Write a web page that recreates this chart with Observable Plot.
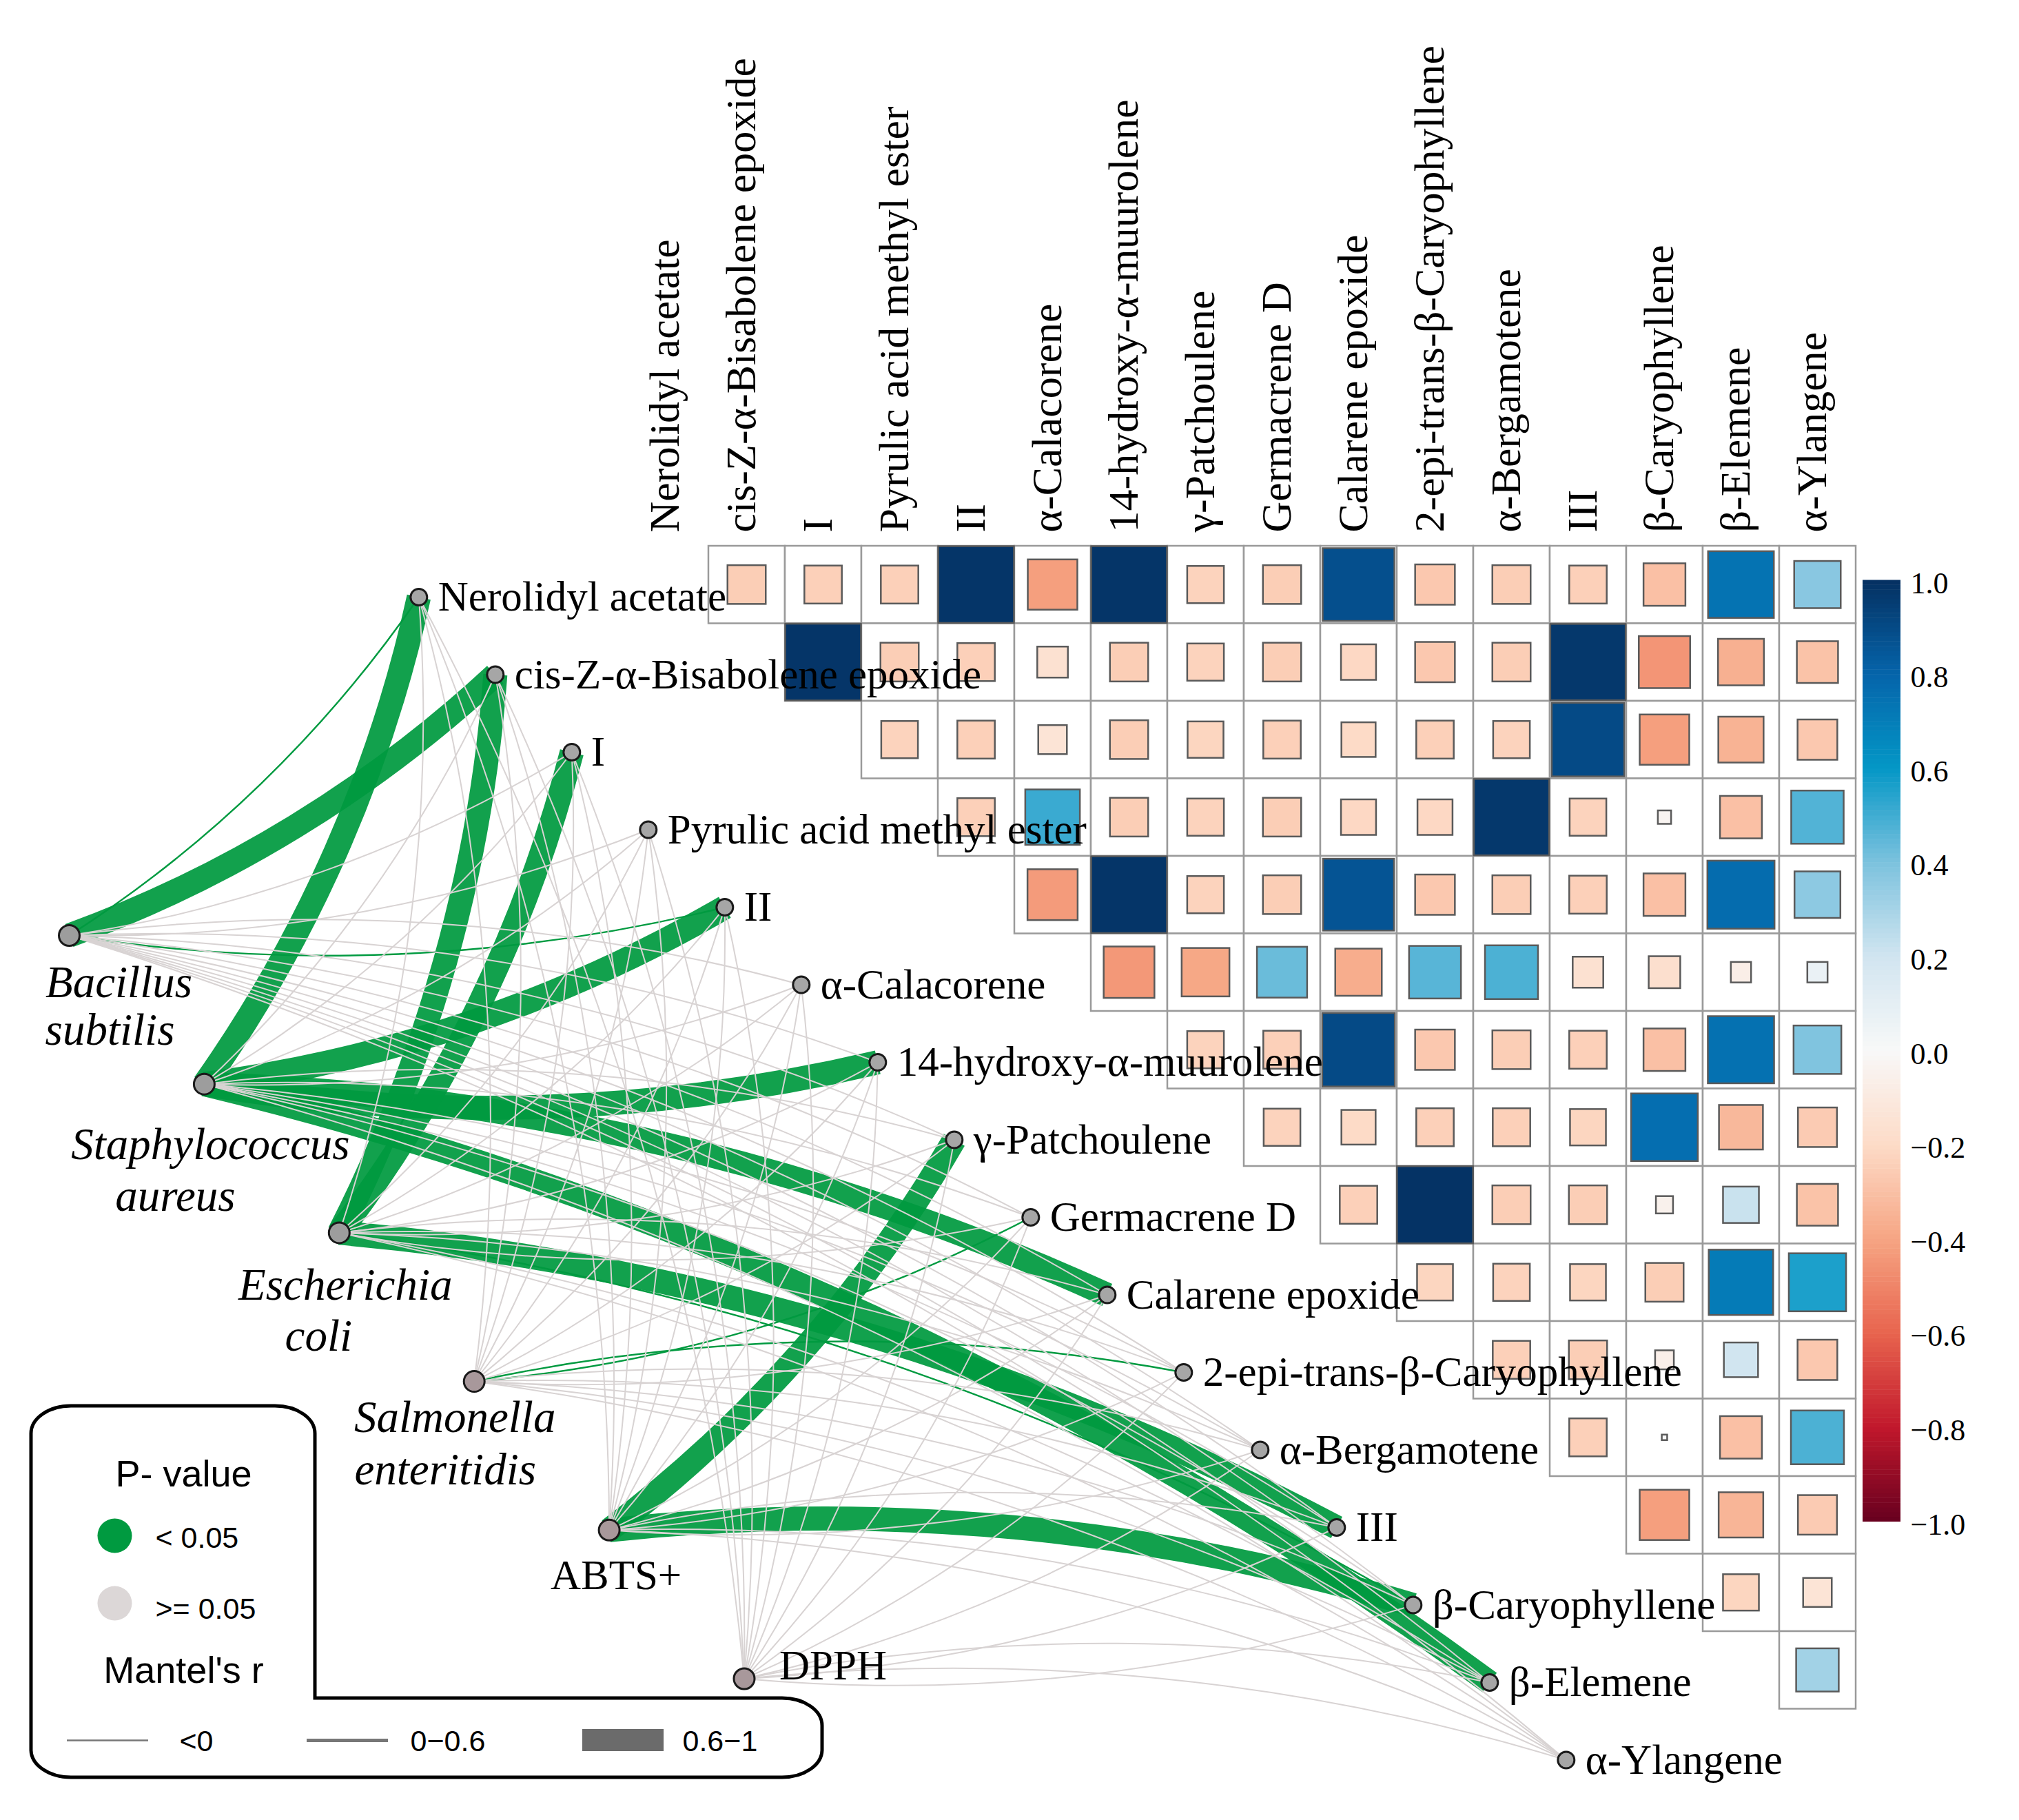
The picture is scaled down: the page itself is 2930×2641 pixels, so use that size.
<!DOCTYPE html>
<html><head><meta charset="utf-8">
<script src="https://cdn.jsdelivr.net/npm/d3@7"></script>
<script src="https://cdn.jsdelivr.net/npm/@observablehq/plot@0.6"></script>
<style>body{margin:0;background:#fff}</style>
</head><body><div id="chart"></div>
<script>
// ---------------- data ----------------
const species = ["Nerolidyl acetate","cis-Z-α-Bisabolene epoxide","I","Pyrulic acid methyl ester","II","α-Calacorene","14-hydroxy-α-muurolene","γ-Patchoulene","Germacrene D","Calarene epoxide","2-epi-trans-β-Caryophyllene","α-Bergamotene","III","β-Caryophyllene","β-Elemene","α-Ylangene"];
const envs = ["Bacillus subtilis","Staphylococcus aureus","Escherichia coli","Salmonella enteritidis","ABTS+","DPPH"];
const envLine1 = ["Bacillus","Staphylococcus","Escherichia","Salmonella","ABTS+","DPPH"];
const envLine2 = ["subtilis","aureus","coli","enteritidis","",""];
// correlation r, row i lists columns i+1 .. 15
const corrRows = [
  [-0.25,-0.24,-0.24,0.98,-0.42,0.98,-0.23,-0.25,0.88,-0.27,-0.25,-0.24,-0.30,0.74,0.37],
  [0.98,-0.25,-0.24,-0.16,-0.25,-0.23,-0.25,-0.21,-0.27,-0.25,0.97,-0.45,-0.36,-0.29],
  [-0.23,-0.24,-0.14,-0.25,-0.22,-0.24,-0.20,-0.24,-0.23,0.90,-0.42,-0.35,-0.27],
  [-0.24,0.51,-0.25,-0.23,-0.25,-0.21,-0.21,0.97,-0.23,-0.03,-0.30,0.47],
  [-0.43,0.98,-0.23,-0.25,0.86,-0.27,-0.25,-0.24,-0.30,0.77,0.36],
  [-0.44,-0.39,0.43,-0.37,0.46,0.48,-0.16,-0.17,-0.07,0.07],
  [-0.23,-0.24,0.90,-0.27,-0.25,-0.24,-0.30,0.75,0.39],
  [-0.23,-0.20,-0.24,-0.24,-0.22,0.76,-0.33,-0.26],
  [-0.24,0.99,-0.25,-0.25,-0.05,0.22,-0.29],
  [-0.22,-0.23,-0.22,-0.25,0.71,0.56],
  [-0.24,-0.25,-0.06,0.20,-0.27],
  [-0.24,0.005,-0.30,0.48],
  [-0.42,-0.34,-0.26],
  [-0.22,-0.14],
  [0.31]
];
// Mantel test: species indices per environment factor
const sigStrong = [[1],[0,4,6,9,14],[1,2,12],[],[7,13],[]];   // P < 0.05, r 0.6–1
const sigWeak   = [[0,4],[],[13],[8,10],[],[]];               // P < 0.05, r < 0
const colorTicks = [1.0,0.8,0.6,0.4,0.2,0.0,-0.2,-0.4,-0.6,-0.8,-1.0];
const colorStops = ["#67001f","#c1182c","#e8644e","#f6a583","#fddbc7","#f8f8f8","#d1e5f0","#7cc2de","#0497c6","#0564aa","#053061"];

// ---------------- layout ----------------
const W = 2930, H = 2641;
const cellW = 111, cellH = 112.5, col0X = 972.5, row0Y = 848.25;
const colX = j => col0X + j * cellW;
const rowY = i => row0Y + i * cellH;
const nodeX = k => colX(k) - 3.29 * cellW;
const nodeY = k => rowY(k) + 0.158 * cellH;
const envX = e => 100 + 195.9 * e;
const envY = e => 1357 + 215.7 * e;
const lab1Off = [[72,69],[9,88],[9,76],[-28,53],[10,66],[51,-19]];
const lab2Off = [[59,138],[-42,163],[-30,150],[-42,129],[0,0],[0,0]];
const GREEN = "#009a40", BEND = 11.4;
const serif = "Liberation Serif, Times New Roman, serif";
const sans = "Liberation Sans, Arial, sans-serif";

const cells = corrRows.flatMap((row, i) => row.map((r, m) => ({i, j: i + 1 + m, r})));
const edges = [];
envs.forEach((env, e) => species.forEach((sp, k) => {
  const strong = sigStrong[e].includes(k), weak = sigWeak[e].includes(k);
  edges.push({e, k, cls: strong ? "strong" : weak ? "weak" : "ns",
    x1: envX(e), y1: envY(e), x2: nodeX(k), y2: nodeY(k)});
}));
const down = d => d.y2 > d.y1 - 20;
const arrowOpts = extra => ({x1: "x1", y1: "y1", x2: "x2", y2: "y2", headLength: 0, strokeLinecap: "butt", ...extra});
const edgeMarks = (cls, style) => [
  Plot.arrow(edges.filter(d => d.cls === cls && down(d)), arrowOpts({bend: BEND, ...style})),
  Plot.arrow(edges.filter(d => d.cls === cls && !down(d)), arrowOpts({bend: -BEND, ...style}))
];
const sq = d => Math.sqrt(Math.abs(d.r));
const cbTop = 842, cbH = 1366, cbX1 = 2703, cbX2 = 2758;
const cbY = v => cbTop + (1 - v) / 2 * cbH;
const slices = d3.range(-100, 100).map(n => n / 100);
const envIdx = d3.range(envs.length);

const plot = Plot.plot({
  width: W, height: H, margin: 0,
  x: {domain: [0, W], range: [0, W], axis: null},
  y: {domain: [0, H], range: [0, H], axis: null},
  color: {type: "linear", domain: colorTicks.slice().reverse(), range: colorStops, interpolate: d3.interpolateRgb},
  marks: [
    ...edgeMarks("strong", {stroke: GREEN, strokeWidth: 35, strokeOpacity: 0.93}),
    ...edgeMarks("weak", {stroke: GREEN, strokeWidth: 2.4}),
    ...edgeMarks("ns", {stroke: "#d8d3d3", strokeWidth: 2}),
    // correlation matrix
    Plot.rect(cells, {x1: d => colX(d.j) - cellW / 2, x2: d => colX(d.j) + cellW / 2,
      y1: d => rowY(d.i) - cellH / 2, y2: d => rowY(d.i) + cellH / 2,
      fill: "white", stroke: "#9a9a9a", strokeWidth: 2.5}),
    Plot.rect(cells, {x1: d => colX(d.j) - cellW * sq(d) / 2, x2: d => colX(d.j) + cellW * sq(d) / 2,
      y1: d => rowY(d.i) - cellH * sq(d) / 2, y2: d => rowY(d.i) + cellH * sq(d) / 2,
      fill: "r", stroke: "#5a5a5a", strokeWidth: 2.5}),
    // column labels
    Plot.text(species, {x: (d, j) => colX(j) - 8, y: 772, text: d => d, rotate: -90, textAnchor: "start",
      fontSize: 62, fontFamily: serif, fill: "black"}),
    // nodes
    Plot.dot(species, {x: (d, k) => nodeX(k), y: (d, k) => nodeY(k), r: 12, fill: "#a6a6a6", stroke: "#1a1a1a", strokeWidth: 3}),
    Plot.dot(envIdx, {x: e => envX(e), y: e => envY(e), r: 15, fill: e => e < 3 ? "#9d9d9d" : "#a8989b", stroke: "#1a1a1a", strokeWidth: 3}),
    Plot.text(species, {x: (d, k) => nodeX(k) + 28, y: (d, k) => nodeY(k), text: d => d, textAnchor: "start",
      fontSize: 61, fontFamily: serif, fill: "black", ariaLabel: "node labels"}),
    Plot.text(envIdx.filter(e => e < 4), {x: e => envX(e) + lab1Off[e][0], y: e => envY(e) + lab1Off[e][1], text: e => envLine1[e],
      fontSize: 65, fontFamily: serif, fontStyle: "italic", fill: "black"}),
    Plot.text(envIdx.filter(e => e < 4), {x: e => envX(e) + lab2Off[e][0], y: e => envY(e) + lab2Off[e][1], text: e => envLine2[e],
      fontSize: 65, fontFamily: serif, fontStyle: "italic", fill: "black"}),
    Plot.text([4], {x: e => envX(e) + lab1Off[e][0], y: e => envY(e) + lab1Off[e][1], text: e => envLine1[e],
      fontSize: 61, fontFamily: serif, fill: "black"}),
    Plot.text([5], {x: e => envX(e) + lab1Off[e][0], y: e => envY(e) + lab1Off[e][1], text: e => envLine1[e],
      textAnchor: "start", fontSize: 61, fontFamily: serif, fill: "black"}),
    // colour bar
    Plot.rect(slices, {x1: cbX1, x2: cbX2, y1: v => cbY(v + 0.01) - 0.5, y2: v => cbY(v), fill: v => v + 0.005}),
    Plot.text(colorTicks, {x: 2772, y: v => cbY(v) + 4, text: v => (v < 0 ? "\u2212" : "") + Math.abs(v).toFixed(1),
      textAnchor: "start", fontSize: 44, fontFamily: serif, fill: "black"}),
    // legend
    Plot.text(["P- value", "Mantel's r"], {x: 266, y: (d, i) => [2139, 2424][i], text: d => d, fontSize: 54, fontFamily: sans, fill: "black"}),
    Plot.dot(["< 0.05", ">= 0.05"], {x: 166, y: (d, i) => [2228, 2326][i], r: 25, fill: (d, i) => [GREEN, "#dcd7d7"][i]}),
    Plot.text(["< 0.05", ">= 0.05"], {x: 225, y: (d, i) => [2232, 2335][i], text: d => d, textAnchor: "start", fontSize: 43, fontFamily: sans, fill: "black"}),
    Plot.ruleY(["<0", "0\u22120.6"], {x1: (d, i) => [97, 445][i], x2: (d, i) => [215, 563][i], y: 2525, stroke: "#777", strokeWidth: (d, i) => [2.5, 5][i]}),
    Plot.rect(["0.6\u22121"], {x1: 845, x2: 963, y1: 2509, y2: 2541, fill: "#6b6b6b"}),
    Plot.text(["<0", "0\u22120.6", "0.6\u22121"], {x: (d, i) => [260, 595, 990][i], y: 2527, text: d => d, textAnchor: "start", fontSize: 43, fontFamily: sans, fill: "black"})
  ]
});

// legend frame
const svg = d3.select(plot);
const rx = 58, ry = 40, L = 45, T = 2040, R1 = 457, S = 2464, R2 = 1193, B = 2579;
svg.append("path")
  .attr("d", `M${L},${T + ry}A${rx},${ry} 0 0 1 ${L + rx},${T}H${R1 - rx}A${rx},${ry} 0 0 1 ${R1},${T + ry}V${S}H${R2 - rx}A${rx},${ry} 0 0 1 ${R2},${S + ry}V${B - ry}A${rx},${ry} 0 0 1 ${R2 - rx},${B}H${L + rx}A${rx},${ry} 0 0 1 ${L},${B - ry}Z`)
  .attr("fill", "none").attr("stroke", "#000").attr("stroke-width", 5);

// white text where labels cross dark squares
const clip = svg.insert("defs", ":first-child").append("clipPath").attr("id", "darkclip");
cells.filter(d => d.r > 0.8).forEach(d => {
  const s = sq(d);
  clip.append("rect").attr("x", colX(d.j) - cellW * s / 2).attr("y", rowY(d.i) - cellH * s / 2)
    .attr("width", cellW * s).attr("height", cellH * s);
});
const lab = plot.querySelector('g[aria-label="node labels"]');
if (lab) {
  const wrap = document.createElementNS("http://www.w3.org/2000/svg", "g");
  wrap.setAttribute("clip-path", "url(#darkclip)");
  const copy = lab.cloneNode(true);
  copy.setAttribute("fill", "white");
  copy.querySelectorAll("text").forEach(t => t.setAttribute("fill", "white"));
  wrap.appendChild(copy);
  lab.after(wrap);
}
document.getElementById("chart").appendChild(plot);
</script>
</body></html>
